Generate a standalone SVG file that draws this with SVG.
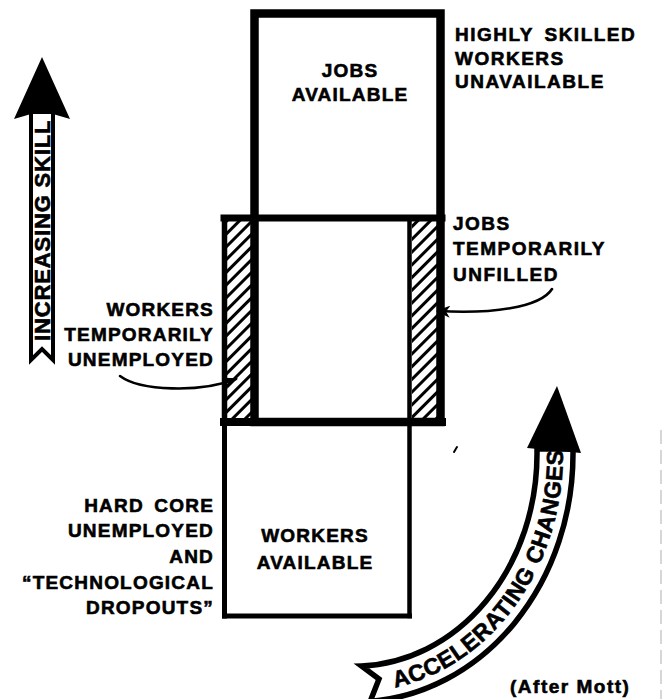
<svg xmlns="http://www.w3.org/2000/svg" width="662" height="699" viewBox="0 0 662 699">
<style>
.t { font-family: "Liberation Sans", Arial, sans-serif; font-weight: bold; font-size: 19px; letter-spacing: 1.2px; fill: #000; stroke: #000; stroke-width: 0.6px; }
.r { text-anchor: end; }
.m { text-anchor: middle; }
.ln { fill: none; stroke: #000; stroke-linecap: square; }
.lead { fill: none; stroke: #000; stroke-width: 2.6; stroke-linecap: round; }
.big { font-family: "Liberation Sans", Arial, sans-serif; font-weight: bold; fill: #000; stroke: #000; stroke-width: 0.6px; }
</style>
<defs>
<pattern id="hatch" patternUnits="userSpaceOnUse" width="9" height="9" patternTransform="rotate(45)">
<line x1="1.5" y1="0" x2="1.5" y2="9" stroke="#000" stroke-width="3"/>
</pattern>
<marker id="ah" viewBox="0 0 14 12" markerWidth="14" markerHeight="12" refX="12" refY="6" orient="auto" markerUnits="userSpaceOnUse">
<path d="M0,0 L14,6 L0,12 L4,6 z" fill="#000"/>
</marker>
<path id="accPath" d="M 362.26 691.85 A 208 238 0 0 0 562.21 433.26"/>
</defs>
<rect width="662" height="699" fill="#fff"/>

<g id="overlap">
<rect x="227" y="221" width="24" height="198" fill="url(#hatch)"/>
<rect x="412" y="221" width="25" height="198" fill="url(#hatch)"/>
<line class="ln" x1="224" y1="218" x2="442" y2="218" stroke-width="7"/>
<line class="ln" x1="224.5" y1="218" x2="224.5" y2="422" stroke-width="5.5"/>
<line class="ln" x1="224" y1="422" x2="442" y2="422" stroke-width="8"/>
</g>

<g id="jobs-available">
<rect x="254.5" y="13.5" width="186" height="408.5" fill="none" stroke="#000" stroke-width="8.5"/>
<text class="t m" x="350" y="77">JOBS</text>
<text class="t m" x="350" y="101">AVAILABLE</text>
</g>

<g id="workers-available">
<line class="ln" x1="224.5" y1="420" x2="224.5" y2="616" stroke-width="5"/>
<line class="ln" x1="409.5" y1="218" x2="409.5" y2="616" stroke-width="4.5"/>
<line class="ln" x1="224.5" y1="616" x2="409.5" y2="616" stroke-width="5"/>
<text class="t m" x="315" y="542">WORKERS</text>
<text class="t m" x="315" y="569">AVAILABLE</text>
</g>

<g id="label-highly-skilled">
<text class="t" x="455" y="41" style="letter-spacing:1.5px;word-spacing:4px">HIGHLY SKILLED</text>
<text class="t" x="455" y="65" style="letter-spacing:1.5px">WORKERS</text>
<text class="t" x="455" y="88" style="letter-spacing:1.5px">UNAVAILABLE</text>
</g>

<g id="label-jobs-unfilled">
<text class="t" x="453" y="230" style="letter-spacing:1.5px">JOBS</text>
<text class="t" x="453" y="255" style="letter-spacing:1.5px">TEMPORARILY</text>
<text class="t" x="453" y="281" style="letter-spacing:1.5px">UNFILLED</text>
</g>

<g id="label-workers-unemployed">
<text class="t r" x="214" y="316">WORKERS</text>
<text class="t r" x="214" y="341">TEMPORARILY</text>
<text class="t r" x="214" y="366">UNEMPLOYED</text>
</g>

<g id="label-hard-core">
<text class="t r" x="214" y="512" style="word-spacing:4px">HARD CORE</text>
<text class="t r" x="214" y="537">UNEMPLOYED</text>
<text class="t r" x="214" y="563">AND</text>
<text class="t r" x="214" y="589">“TECHNOLOGICAL</text>
<text class="t r" x="214" y="614">DROPOUTS”</text>
</g>

<g id="increasing-skill">
<path d="M31,112 L31,360 L42,349 L53,360 L53,112" fill="#fff" stroke="#000" stroke-width="4" stroke-linejoin="miter"/>
<polygon points="42,57 14,119 31,114 53,114 70,119" fill="#000"/>
<text class="big" transform="translate(50,341) rotate(-90)" font-size="22" letter-spacing="0.85">INCREASING SKILL</text>
</g>

<g id="accelerating-changes">
<path d="M 361.4 665.9 A 182 212 0 0 0 537 454 L 537 449 L 573 449 L 573 454 A 218 248 0 0 1 370.2 701.4 L 379 679 Z" fill="#fff" stroke="#000" stroke-width="5.5" stroke-linejoin="miter"/>
<polygon points="557,386 527,448 581,453" fill="#000"/>
<text class="big" font-size="23" letter-spacing="0.6"><textPath href="#accPath" startOffset="33">ACCELERATING CHANGES</textPath></text>
</g>

<g id="connectors">
<path class="lead" d="M 120 376 C 140 391, 200 393, 236 379" marker-end="url(#ah)"/>
<path class="lead" d="M 552 289 C 540 308, 490 314, 438 311" marker-end="url(#ah)"/>
</g>

<g id="credit">
<text class="t" x="510" y="693" style="letter-spacing:1.5px">(After Mott)</text>
</g>
<path d="M 454 452 L 457 447" stroke="#000" stroke-width="2" stroke-linecap="round"/>
<line x1="661" y1="430" x2="661" y2="699" stroke="#bbb" stroke-width="1.2" stroke-dasharray="14 6"/>
</svg>
